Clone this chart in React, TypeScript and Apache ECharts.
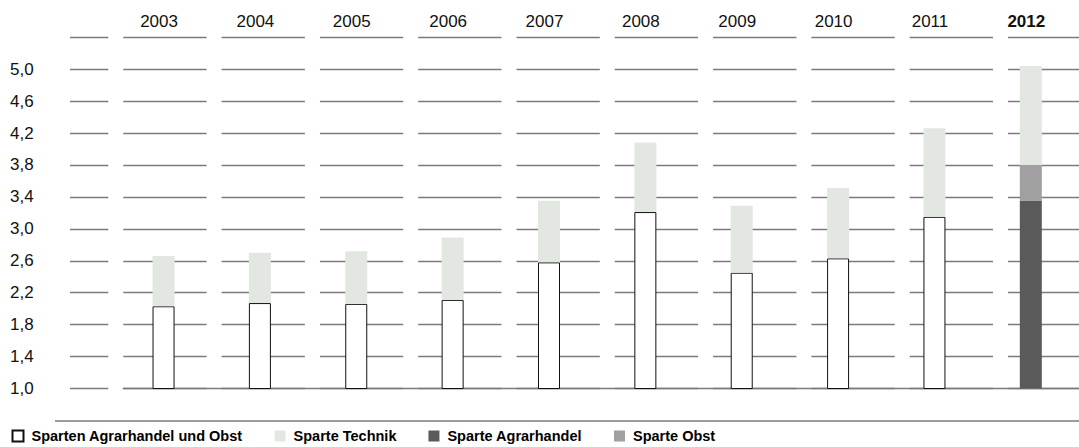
import React, { useEffect, useRef } from "react";
import * as echarts from "echarts";

// ---- data ----
const years = ["2003", "2004", "2005", "2006", "2007", "2008", "2009", "2010", "2011", "2012"];
const spartenAgrarUndObst = [2.03, 2.07, 2.06, 2.11, 2.58, 3.21, 2.45, 2.63, 3.15, null];
const sparteAgrarhandel = [null, null, null, null, null, null, null, null, null, 3.35];
const sparteObst = [null, null, null, null, null, null, null, null, null, 0.45];
const sparteTechnik = [0.63, 0.63, 0.66, 0.78, 0.77, 0.87, 0.84, 0.88, 1.11, 1.24];
const yMin = 1.0;
const yMax = 5.4;
const yStep = 0.4;
const boldYear = "2012";
const legendNames = [
  "Sparten Agrarhandel und Obst",
  "Sparte Technik",
  "Sparte Agrarhandel",
  "Sparte Obst",
];

// ---- layout / style ----
const FONT = "'Liberation Sans', Arial, Helvetica, sans-serif";
const TOP = 37.2;
const BOTTOM = 58.5;
const BAND = 98.3;
const FIRST_CENTER = 164.5;
const GRID_COLOR = "#7b7b7b";

export default function App() {
  const ref = useRef<HTMLDivElement>(null);

  useEffect(() => {
    if (!ref.current) return;
    const chart = echarts.init(ref.current, undefined, { renderer: "svg" });
    const barLeft = FIRST_CENTER - BAND / 2;
    const option: any = {
      animation: false,
      backgroundColor: "#ffffff",
      textStyle: { fontFamily: FONT, color: "#111" },
      grid: [
        { left: 70, right: 0, top: TOP, bottom: BOTTOM },
        { left: barLeft, width: BAND * years.length, top: TOP, bottom: BOTTOM },
        { left: 123.3, right: 0, top: TOP, bottom: BOTTOM },
      ],
      xAxis: [
        { gridIndex: 0, type: "value", show: false },
        {
          gridIndex: 1,
          type: "category",
          data: years,
          position: "top",
          axisLine: { show: false, onZero: false },
          axisTick: { show: false },
          splitLine: { show: false },
          axisLabel: {
            fontSize: 17,
            color: "#111",
            fontFamily: FONT,
            margin: 7,
            padding: [0, 9, 0, 0],
            formatter: (v: string) => (v === boldYear ? `{b|${v}}` : v),
            rich: { b: { fontWeight: "bold", fontSize: 17, color: "#111", fontFamily: FONT } },
          },
        },
        {
          gridIndex: 2,
          type: "value",
          min: 0,
          max: 1,
          position: "bottom",
          axisLine: { show: true, onZero: false, lineStyle: { color: GRID_COLOR, width: 1.3 } },
          axisTick: { show: false },
          axisLabel: { show: false },
          splitLine: { show: false },
        },
      ],
      yAxis: [
        {
          gridIndex: 0,
          type: "value",
          min: yMin,
          max: yMax,
          interval: yStep,
          axisLine: { show: false },
          axisTick: { show: false },
          axisLabel: {
            align: "left",
            margin: 60,
            fontSize: 17,
            color: "#111",
            fontFamily: FONT,
            formatter: (v: number) => (Math.abs(v - yMax) < 1e-6 ? "" : v.toFixed(1).replace(".", ",")),
          },
          splitLine: {
            show: true,
            lineStyle: { color: GRID_COLOR, width: 1.3, type: [BAND - 15, 15], dashOffset: 45.3 },
          },
        },
        { gridIndex: 1, type: "value", min: yMin, max: yMax, interval: yStep, show: false },
        { gridIndex: 2, type: "value", min: 0, max: 1, show: false },
      ],
      legend: {
        data: legendNames,
        left: 11.5,
        top: 428.5,
        padding: 0,
        itemWidth: 11,
        itemHeight: 11,
        itemGap: 32,
        icon: "rect",
        selectedMode: false,
        textStyle: { fontSize: 14.5, fontWeight: "bold", color: "#000", fontFamily: FONT, padding: [0, 0, 0, 3] },
      },
      graphic: [
        {
          type: "line",
          shape: { x1: 55, y1: 421, x2: 1079, y2: 421 },
          style: { stroke: GRID_COLOR, lineWidth: 1.3 },
          silent: true,
        },
      ],
      series: [
        {
          name: legendNames[0],
          type: "bar",
          stack: "total",
          xAxisIndex: 1,
          yAxisIndex: 1,
          barWidth: 22,
          data: spartenAgrarUndObst,
          itemStyle: { color: "#ffffff", borderColor: "#111111", borderWidth: 1 },
          silent: true,
          clip: true,
          z: 3,
        },
        {
          name: legendNames[2],
          type: "bar",
          stack: "total",
          xAxisIndex: 1,
          yAxisIndex: 1,
          barWidth: 22,
          data: sparteAgrarhandel,
          itemStyle: { color: "#5a5a5a" },
          silent: true,
          clip: true,
          z: 3,
        },
        {
          name: legendNames[3],
          type: "bar",
          stack: "total",
          xAxisIndex: 1,
          yAxisIndex: 1,
          barWidth: 22,
          data: sparteObst,
          itemStyle: { color: "#a0a0a0" },
          silent: true,
          clip: true,
          z: 3,
        },
        {
          name: legendNames[1],
          type: "bar",
          stack: "total",
          xAxisIndex: 1,
          yAxisIndex: 1,
          barWidth: 22,
          data: sparteTechnik,
          itemStyle: { color: "#e2e7e2" },
          silent: true,
          clip: true,
          z: 3,
        },
      ],
    };
    chart.setOption(option);
    return () => chart.dispose();
  }, []);

  return (
    <div
      ref={ref}
      style={{ position: "fixed", left: 0, top: 0, width: 1079, height: 447, background: "#fff" }}
    />
  );
}
